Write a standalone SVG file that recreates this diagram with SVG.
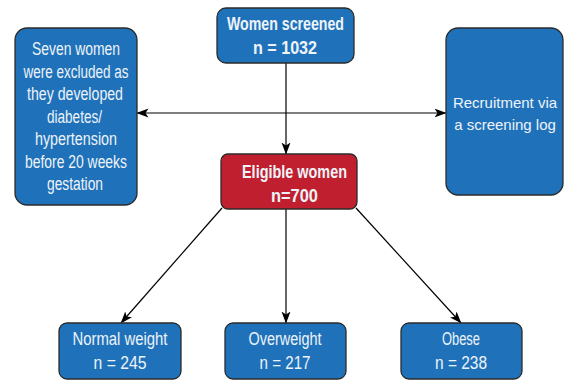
<svg xmlns="http://www.w3.org/2000/svg" width="565" height="383" viewBox="0 0 565 383">
<defs>
<marker id="ah" viewBox="0 0 12 10" refX="11.5" refY="5" markerWidth="12" markerHeight="10" markerUnits="userSpaceOnUse" orient="auto-start-reverse">
<path d="M0,0.5 L12,5 L0,9.5 L3,5 z" fill="#000"/>
</marker>
<style>
.box{fill:#1f72ba;stroke:#2b2b2b;stroke-width:1.3}
.red{fill:#c01f2f;stroke:#2b2b2b;stroke-width:1.3}
text{font-family:"Liberation Sans",Arial,sans-serif;font-size:18px;fill:#eef3f8;text-anchor:middle}
.b{font-weight:bold}
.s{font-size:15px}
.c{stroke:#000;stroke-width:1.2;fill:none}
</style>
</defs>
<rect width="565" height="383" fill="#fff"/>
<g id="connectors">
<line class="c" x1="286" y1="63" x2="286" y2="154" marker-end="url(#ah)"/>
<line class="c" x1="137" y1="113" x2="446" y2="113" marker-start="url(#ah)" marker-end="url(#ah)"/>
<line class="c" x1="222" y1="208" x2="121" y2="323" marker-end="url(#ah)"/>
<line class="c" x1="286" y1="209" x2="286" y2="323" marker-end="url(#ah)"/>
<line class="c" x1="356" y1="208" x2="461" y2="323" marker-end="url(#ah)"/>
</g>
<g id="screened">
<rect class="box" x="217" y="8" width="137" height="55" rx="9"/>
<text class="b" x="285.5" y="30" textLength="117" lengthAdjust="spacingAndGlyphs">Women screened</text>
<text class="b" x="285" y="54" textLength="64" lengthAdjust="spacingAndGlyphs">n = 1032</text>
</g>
<g id="excluded">
<rect class="box" x="15" y="28" width="122" height="177" rx="12"/>
<text x="76" y="55" textLength="88" lengthAdjust="spacingAndGlyphs">Seven women</text>
<text x="76" y="77.5" textLength="105" lengthAdjust="spacingAndGlyphs">were excluded as</text>
<text x="75" y="100" textLength="96" lengthAdjust="spacingAndGlyphs">they developed</text>
<text x="74.5" y="122.5" textLength="55" lengthAdjust="spacingAndGlyphs">diabetes/</text>
<text x="76" y="145" textLength="82" lengthAdjust="spacingAndGlyphs">hypertension</text>
<text x="76" y="167.5" textLength="102" lengthAdjust="spacingAndGlyphs">before 20 weeks</text>
<text x="75" y="190" textLength="56" lengthAdjust="spacingAndGlyphs">gestation</text>
</g>
<g id="recruitment">
<rect class="box" x="446" y="28" width="117" height="167" rx="12"/>
<text class="s" x="505" y="108">Recruitment via</text>
<text class="s" x="505" y="130">a screening log</text>
</g>
<g id="eligible">
<rect class="red" x="221" y="154" width="136" height="55" rx="7"/>
<text class="b" x="294.5" y="178" textLength="105" lengthAdjust="spacingAndGlyphs">Eligible women</text>
<text class="b" x="294.5" y="202" textLength="47" lengthAdjust="spacingAndGlyphs">n=700</text>
</g>
<g id="normal">
<rect class="box" x="59" y="323" width="122" height="56" rx="8"/>
<text x="120" y="345" textLength="95" lengthAdjust="spacingAndGlyphs">Normal weight</text>
<text x="120" y="369" textLength="53" lengthAdjust="spacingAndGlyphs">n = 245</text>
</g>
<g id="overweight">
<rect class="box" x="225" y="323" width="121" height="56" rx="8"/>
<text x="285" y="345" textLength="73" lengthAdjust="spacingAndGlyphs">Overweight</text>
<text x="285" y="369" textLength="51" lengthAdjust="spacingAndGlyphs">n = 217</text>
</g>
<g id="obese">
<rect class="box" x="401" y="323" width="121" height="56" rx="8"/>
<text x="461" y="345" textLength="38" lengthAdjust="spacingAndGlyphs">Obese</text>
<text x="461" y="369" textLength="52" lengthAdjust="spacingAndGlyphs">n = 238</text>
</g>
</svg>
